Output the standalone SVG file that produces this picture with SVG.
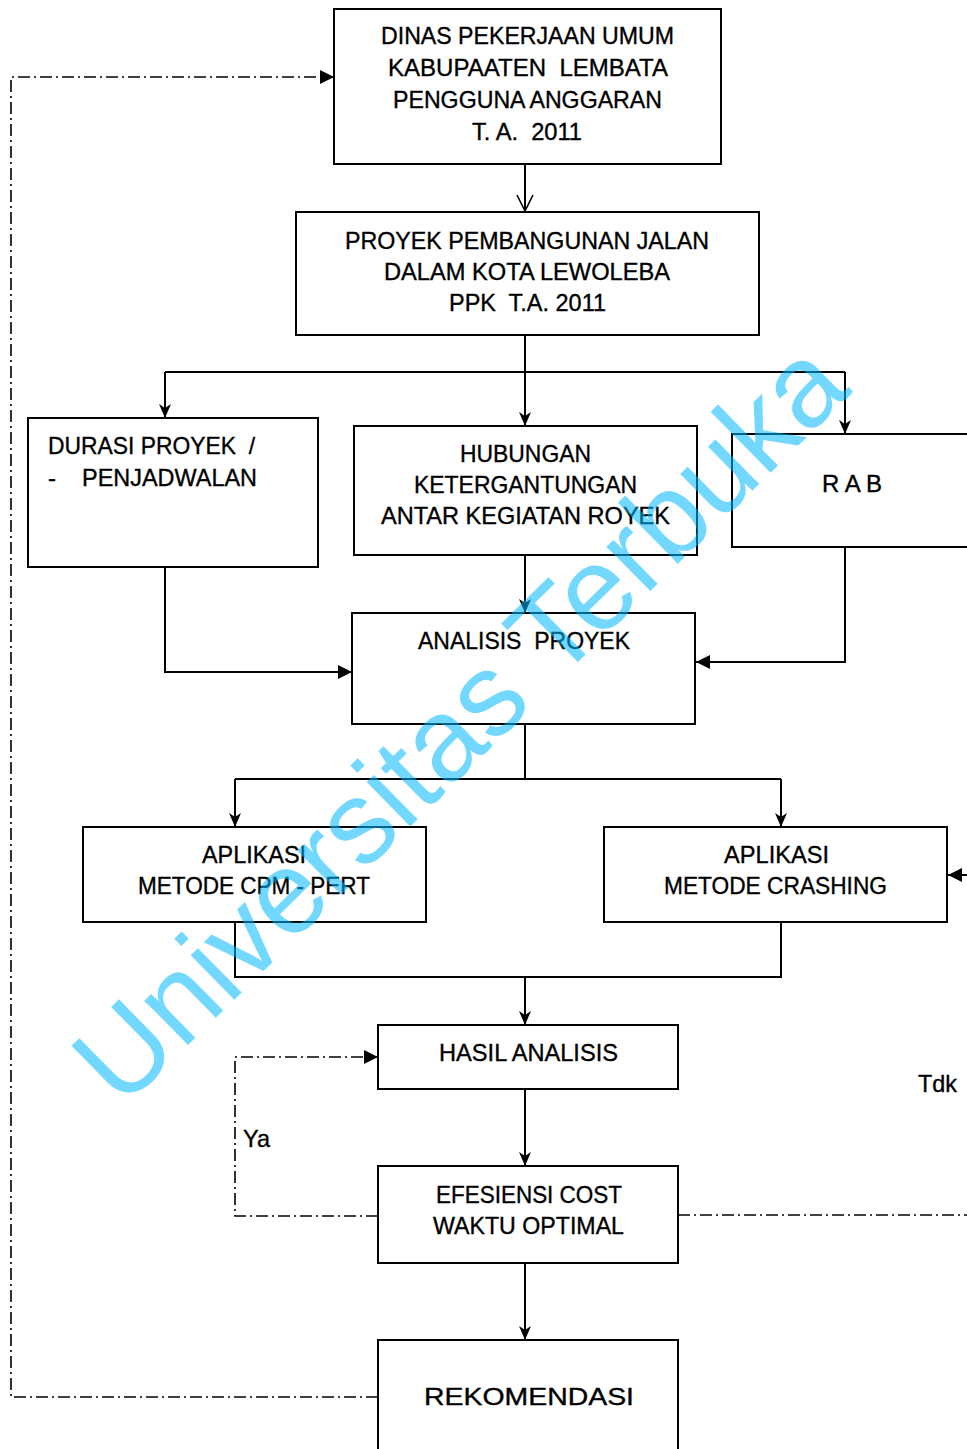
<svg xmlns="http://www.w3.org/2000/svg" width="967" height="1449" viewBox="0 0 967 1449">
  <style>
    .box { fill: #ffffff; stroke: #000000; stroke-width: 2; }
    .lbl { font-family: "Liberation Sans", Arial, sans-serif; font-size: 24px; fill: #000000; stroke: #000000; stroke-width: 0.35; }
    .mid { text-anchor: middle; }
    .wire { fill: none; stroke: #000000; stroke-width: 2; }
    .dashdot { fill: none; stroke: #000000; stroke-width: 1.6; stroke-dasharray: 12 4 2 4; }
    .mark { font-family: "Liberation Sans", Arial, sans-serif; font-size: 118px; fill: #00b8ff; fill-opacity: 0.55; }
  </style>
  <defs>
    <marker id="open" markerUnits="userSpaceOnUse" markerWidth="20" markerHeight="20" refX="17" refY="9" orient="auto">
      <path d="M1,1 L17,9 L1,17" fill="none" stroke="#000" stroke-width="1.6"/>
    </marker>
    <marker id="stealth" markerUnits="userSpaceOnUse" markerWidth="16" markerHeight="14" refX="14" refY="6" orient="auto">
      <path d="M0,0 L14,6 L0,12 L4,6 Z" fill="#000"/>
    </marker>
    <marker id="solid" markerUnits="userSpaceOnUse" markerWidth="16" markerHeight="16" refX="14" refY="7" orient="auto">
      <path d="M0,0 L14,7 L0,14 Z" fill="#000"/>
    </marker>
  </defs>

  <rect width="967" height="1449" fill="#ffffff"/>

  <!-- connectors -->
  <g id="connectors">
    <path class="wire" d="M525,164 V211" marker-end="url(#open)"/>
    <path class="wire" d="M525,335 V372 M165,372 H845"/>
    <path class="wire" d="M165,372 V418" marker-end="url(#stealth)"/>
    <path class="wire" d="M525,372 V426" marker-end="url(#stealth)"/>
    <path class="wire" d="M845,372 V434" marker-end="url(#stealth)"/>
    <path class="wire" d="M525,555 V613" marker-end="url(#stealth)"/>
    <path class="wire" d="M165,567 V672 H352" marker-end="url(#solid)"/>
    <path class="wire" d="M845,547 V662 H696" marker-end="url(#solid)"/>
    <path class="wire" d="M525,724 V779 M235,779 H781"/>
    <path class="wire" d="M235,779 V827" marker-end="url(#stealth)"/>
    <path class="wire" d="M781,779 V827" marker-end="url(#stealth)"/>
    <path class="wire" d="M235,922 V977 H781 V922"/>
    <path class="wire" d="M525,977 V1025" marker-end="url(#stealth)"/>
    <path class="wire" d="M525,1089 V1166" marker-end="url(#stealth)"/>
    <path class="wire" d="M525,1263 V1340" marker-end="url(#stealth)"/>
    <path class="wire" d="M967,875 H948" marker-end="url(#solid)"/>
    <path class="dashdot" d="M378,1216 H235 V1057 H378" marker-end="url(#solid)"/>
    <path class="dashdot" d="M678,1215 H967"/>
    <path class="dashdot" d="M378,1397 H11 V77 H334" marker-end="url(#solid)"/>
    <text class="lbl" x="243" y="1147" textLength="27" lengthAdjust="spacingAndGlyphs">Ya</text>
    <text class="lbl" x="918" y="1092" textLength="39" lengthAdjust="spacingAndGlyphs">Tdk</text>
  </g>

  <!-- nodes -->
  <g id="dinas">
    <rect class="box" x="334" y="9" width="387" height="155"/>
    <text class="lbl mid" x="527.5" y="44" textLength="293" lengthAdjust="spacingAndGlyphs">DINAS PEKERJAAN UMUM</text>
    <text class="lbl mid" x="528" y="76" textLength="280" lengthAdjust="spacingAndGlyphs" xml:space="preserve">KABUPAATEN  LEMBATA</text>
    <text class="lbl mid" x="527.5" y="108" textLength="269" lengthAdjust="spacingAndGlyphs">PENGGUNA ANGGARAN</text>
    <text class="lbl mid" x="527" y="140" textLength="110" lengthAdjust="spacingAndGlyphs" xml:space="preserve">T. A.  2011</text>
  </g>

  <g id="proyek">
    <rect class="box" x="296" y="212" width="463" height="123"/>
    <text class="lbl mid" x="527" y="249" textLength="364" lengthAdjust="spacingAndGlyphs">PROYEK PEMBANGUNAN JALAN</text>
    <text class="lbl mid" x="527" y="280" textLength="286" lengthAdjust="spacingAndGlyphs">DALAM KOTA LEWOLEBA</text>
    <text class="lbl mid" x="527.5" y="311" textLength="157" lengthAdjust="spacingAndGlyphs" xml:space="preserve">PPK  T.A. 2011</text>
  </g>

  <g id="durasi">
    <rect class="box" x="28" y="418" width="290" height="149"/>
    <text class="lbl" x="48" y="454" textLength="207" lengthAdjust="spacingAndGlyphs" xml:space="preserve">DURASI PROYEK  /</text>
    <text class="lbl" x="48" y="486">-</text>
    <text class="lbl" x="82" y="486" textLength="175" lengthAdjust="spacingAndGlyphs">PENJADWALAN</text>
  </g>

  <g id="hubungan">
    <rect class="box" x="354" y="426" width="343" height="129"/>
    <text class="lbl mid" x="525.5" y="462" textLength="131" lengthAdjust="spacingAndGlyphs">HUBUNGAN</text>
    <text class="lbl mid" x="525.5" y="493" textLength="223" lengthAdjust="spacingAndGlyphs">KETERGANTUNGAN</text>
    <text class="lbl mid" x="525.5" y="524" textLength="289" lengthAdjust="spacingAndGlyphs">ANTAR KEGIATAN ROYEK</text>
  </g>

  <g id="rab">
    <rect class="box" x="732" y="434" width="250" height="113"/>
    <text class="lbl mid" x="852" y="492" textLength="60" lengthAdjust="spacingAndGlyphs">R A B</text>
  </g>

  <g id="analisis">
    <rect class="box" x="352" y="613" width="343" height="111"/>
    <text class="lbl mid" x="524" y="649" textLength="212" lengthAdjust="spacingAndGlyphs" xml:space="preserve">ANALISIS  PROYEK</text>
  </g>

  <g id="cpm">
    <rect class="box" x="83" y="827" width="343" height="95"/>
    <text class="lbl mid" x="254" y="863" textLength="104" lengthAdjust="spacingAndGlyphs">APLIKASI</text>
    <text class="lbl mid" x="254" y="894" textLength="232" lengthAdjust="spacingAndGlyphs">METODE CPM - PERT</text>
  </g>

  <g id="crashing">
    <rect class="box" x="604" y="827" width="343" height="95"/>
    <text class="lbl mid" x="776.5" y="863" textLength="105" lengthAdjust="spacingAndGlyphs">APLIKASI</text>
    <text class="lbl mid" x="775.5" y="894" textLength="223" lengthAdjust="spacingAndGlyphs">METODE CRASHING</text>
  </g>

  <g id="hasil">
    <rect class="box" x="378" y="1025" width="300" height="64"/>
    <text class="lbl mid" x="528.5" y="1061" textLength="179" lengthAdjust="spacingAndGlyphs">HASIL ANALISIS</text>
  </g>

  <g id="efesiensi">
    <rect class="box" x="378" y="1166" width="300" height="97"/>
    <text class="lbl mid" x="529" y="1203" textLength="186" lengthAdjust="spacingAndGlyphs">EFESIENSI COST</text>
    <text class="lbl mid" x="528.5" y="1234" textLength="191" lengthAdjust="spacingAndGlyphs">WAKTU OPTIMAL</text>
  </g>

  <g id="rekomendasi">
    <rect class="box" x="378" y="1340" width="300" height="130"/>
    <text class="lbl mid" x="529" y="1405" textLength="210" lengthAdjust="spacingAndGlyphs">REKOMENDASI</text>
  </g>

  <!-- diagonal watermark drawn over everything -->
  <text class="mark" transform="translate(122,1110) rotate(-44.5)" x="0" y="0" textLength="1025" lengthAdjust="spacingAndGlyphs">Universitas Terbuka</text>
</svg>
